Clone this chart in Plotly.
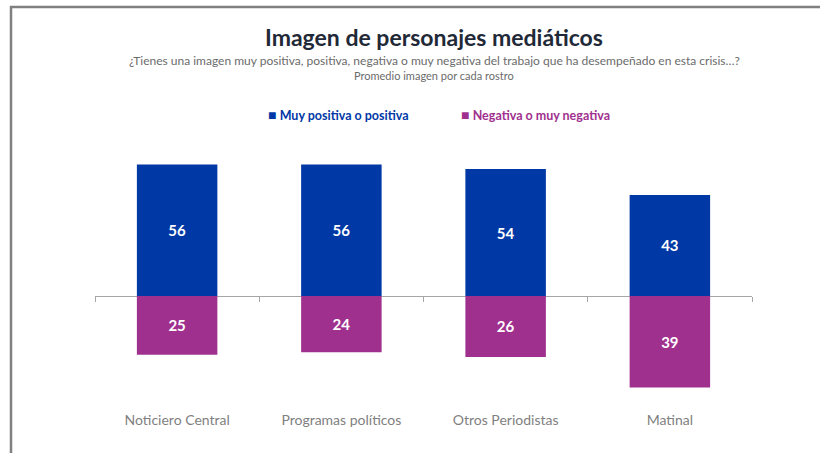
import plotly.graph_objects as go

categories = ["Noticiero Central", "Programas políticos", "Otros Periodistas", "Matinal"]
positive = [56, 56, 54, 43]
negative = [25, 24, 26, 39]
series_names = ["Muy positiva o positiva", "Negativa o muy negativa"]
BLUE = "#0038A6"
PURPLE = "#A0308E"
FONT = "Lato"

# page geometry (px)
W, H = 820, 453
ML, MR, MT, MB = 95, 68, 140, 53
PW = W - ML - MR
PH = H - MT - MB
y_top = 66.4
y_bot = -44.3

def px_x(px):
    return (px - ML) / PW

def px_y(py):
    return (H - MB - py) / PH

fig = go.Figure()
fig.add_trace(go.Bar(
    x=categories, y=positive, name=series_names[0],
    marker=dict(color=BLUE, line=dict(width=0)),
    text=[str(v) for v in positive], textposition="inside", insidetextanchor="middle",
    textfont=dict(color="white", size=15, family=FONT, weight="bold"),
    width=0.49, showlegend=False,
))
fig.add_trace(go.Bar(
    x=categories, y=[-v for v in negative], name=series_names[1],
    marker=dict(color=PURPLE, line=dict(width=0)),
    text=[str(v) for v in negative], textposition="inside", insidetextanchor="middle",
    textfont=dict(color="white", size=15, family=FONT, weight="bold"),
    width=0.49, showlegend=False,
))

zero_pos = (0 - y_bot) / (y_top - y_bot)

fig.update_layout(
    width=W, height=H,
    margin=dict(l=ML, r=MR, t=MT, b=MB),
    paper_bgcolor="white", plot_bgcolor="white",
    barmode="relative",
    font=dict(family=FONT),
    title=dict(
        text="<b>Imagen de personajes mediáticos</b>",
        font=dict(family=FONT, size=23, color="#1F2937"),
        x=434 / W, xref="container", xanchor="center",
        y=1 - 38 / H, yref="container", yanchor="middle",
    ),
    xaxis=dict(
        type="category",
        anchor="free", position=zero_pos,
        showline=True, linecolor="#A6A6A6", linewidth=1,
        ticks="outside", tickson="boundaries", ticklen=5, tickcolor="#A6A6A6",
        showgrid=False, zeroline=False,
        tickfont=dict(family=FONT, size=14, color="#7F7F7F"),
        ticklabelstandoff=111,
        layer="below traces",
    ),
    yaxis=dict(range=[y_bot, y_top], visible=False, showgrid=False, zeroline=False),
    bargap=0.51,
)

annotations = [
    dict(text="¿Tienes una imagen muy positiva, positiva, negativa o muy negativa del trabajo que ha desempeñado en esta crisis…?",
         x=px_x(434), y=px_y(60), font=dict(family=FONT, size=12, color="#6B6B6B")),
    dict(text="Promedio imagen por cada rostro",
         x=px_x(434), y=px_y(75), font=dict(family=FONT, size=11, color="#6B6B6B")),
    dict(text="<span style='font-size:14px'>■</span> <b>" + series_names[0] + "</b>",
         x=px_x(266), y=px_y(115), xanchor="left", font=dict(family=FONT, size=12.5, color=BLUE)),
    dict(text="<span style='font-size:14px'>■</span> <b>" + series_names[1] + "</b>",
         x=px_x(459), y=px_y(115), xanchor="left", font=dict(family=FONT, size=12.5, color=PURPLE)),
]
for a in annotations:
    a.setdefault("xanchor", "center")
    a.update(xref="paper", yref="paper", yanchor="middle", showarrow=False)
    fig.add_annotation(**a)

# frame lines (top and left)
fig.add_shape(type="line", xref="paper", yref="paper",
              x0=px_x(10), x1=px_x(820), y0=px_y(7), y1=px_y(7),
              line=dict(color="#808080", width=2.5))
fig.add_shape(type="line", xref="paper", yref="paper",
              x0=px_x(11), x1=px_x(11), y0=px_y(6), y1=px_y(453),
              line=dict(color="#808080", width=2.5))

fig.write_html(
    "out.html",
    config={"displayModeBar": False},
    post_script="document.body.style.margin='0';document.body.style.overflow='hidden';",
)
